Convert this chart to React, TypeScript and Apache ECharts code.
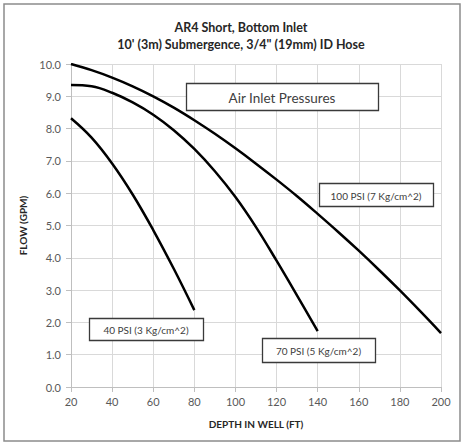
import React, { useEffect, useRef } from "react";
import * as echarts from "echarts";

const depth = [20, 30, 40, 50, 60, 70, 80, 90, 100, 110, 120, 130, 140, 150, 160, 170, 180, 190, 200];
const psi100 = [10.0, 9.81, 9.58, 9.31, 9.0, 8.65, 8.26, 7.84, 7.39, 6.915, 6.42, 5.905, 5.36, 4.8, 4.22, 3.615, 2.99, 2.34, 1.67];
const depth70 = [20, 30, 40, 50, 60, 70, 80, 90, 100, 110, 120, 130, 140];
const psi70 = [9.35, 9.31, 9.11, 8.81, 8.43, 7.95, 7.37, 6.68, 5.88, 4.95, 3.91, 2.83, 1.73];
const depth40 = [20, 30, 40, 50, 60, 70, 80];
const psi40 = [8.32, 7.72, 6.92, 5.96, 4.86, 3.66, 2.38];

const titleLines = ["AR4 Short, Bottom Inlet", "10' (3m) Submergence, 3/4\" (19mm) ID Hose"];
const xName = "DEPTH IN WELL (FT)";
const yName = "FLOW (GPM)";
const boxLabels = ["Air Inlet Pressures", "100 PSI (7 Kg/cm^2)", "40 PSI (3 Kg/cm^2)", "70 PSI (5 Kg/cm^2)"];

const FONT = "Lato, 'Open Sans', sans-serif";

function zip(xs: number[], ys: number[]) {
  return xs.map((x, i) => [x, ys[i]]);
}

function box(x: number, y: number, w: number, h: number, text: string, size: number) {
  return {
    type: "group",
    z: 100,
    children: [
      { type: "rect", z: 100, shape: { x: x + 0.5, y: y + 0.5, width: w, height: h }, style: { fill: "#fff", stroke: "#3a3a3a", lineWidth: 1.3 } },
      {
        type: "text",
        z: 101,
        x: x + w / 2,
        y: y + h / 2 + 1,
        style: { text, fill: "#404040", font: `${size}px ${FONT}`, textAlign: "center", textVerticalAlign: "middle" },
      },
    ],
  };
}

export default function App() {
  const ref = useRef<HTMLDivElement>(null);
  useEffect(() => {
    const chart = echarts.init(ref.current!, undefined, { renderer: "svg" });
    const lineStyle = { color: "#000", width: 2.5 };
    const series = [
      { name: "100", data: zip(depth, psi100) },
      { name: "70", data: zip(depth70, psi70) },
      { name: "40", data: zip(depth40, psi40) },
    ].map((s) => ({
      type: "line",
      name: s.name,
      data: s.data,
      smooth: 0.4,
      showSymbol: false,
      lineStyle,
      itemStyle: { color: "#000" },
    }));
    chart.setOption({
      animation: false,
      backgroundColor: "#fff",
      title: {
        text: titleLines.join("\n"),
        left: 236,
        textAlign: "center",
        top: 14,
        textStyle: { fontFamily: FONT, fontSize: 12.5, fontWeight: "bold", color: "#262626", lineHeight: 17 },
      },
      grid: { left: 71, top: 64, right: 22, bottom: 58, containLabel: false },
      xAxis: {
        type: "value",
        min: 20,
        max: 200,
        interval: 20,
        name: xName,
        nameLocation: "middle",
        nameGap: 32,
        nameTextStyle: { fontFamily: FONT, fontSize: 10, fontWeight: "bold", color: "#262626" },
        axisLine: { show: true, lineStyle: { color: "#bfbfbf" } },
        axisTick: { show: true, length: 5, lineStyle: { color: "#bfbfbf" } },
        axisLabel: { fontFamily: FONT, fontSize: 11, color: "#595959", margin: 9 },
        splitLine: { show: true, lineStyle: { color: "#d9d9d9", width: 1 } },
      },
      yAxis: {
        type: "value",
        min: 0,
        max: 10,
        interval: 1,
        name: yName,
        nameLocation: "middle",
        nameGap: 42,
        nameTextStyle: { fontFamily: FONT, fontSize: 10, fontWeight: "bold", color: "#262626" },
        axisLine: { show: true, lineStyle: { color: "#bfbfbf" } },
        axisTick: { show: true, length: 5, lineStyle: { color: "#bfbfbf" } },
        axisLabel: { fontFamily: FONT, fontSize: 11, color: "#595959", margin: 10, formatter: (v: number) => v.toFixed(1) },
        splitLine: { show: true, lineStyle: { color: "#d9d9d9", width: 1 } },
      },
      series,
      graphic: [
        { type: "rect", z: 0, shape: { x: 4, y: 4, width: 456, height: 437 }, style: { fill: "none", stroke: "#8c8c8c", lineWidth: 1.5 } },
        box(186, 83, 192, 27, boxLabels[0], 13.5),
        box(319, 183, 114, 23, boxLabels[1], 10),
        box(89, 318, 114, 22, boxLabels[2], 10),
        box(262, 338, 113, 24, boxLabels[3], 10),
      ],
    });
    return () => chart.dispose();
  }, []);
  return <div ref={ref} style={{ position: "fixed", left: 0, top: 0, width: 463, height: 445 }} />;
}
